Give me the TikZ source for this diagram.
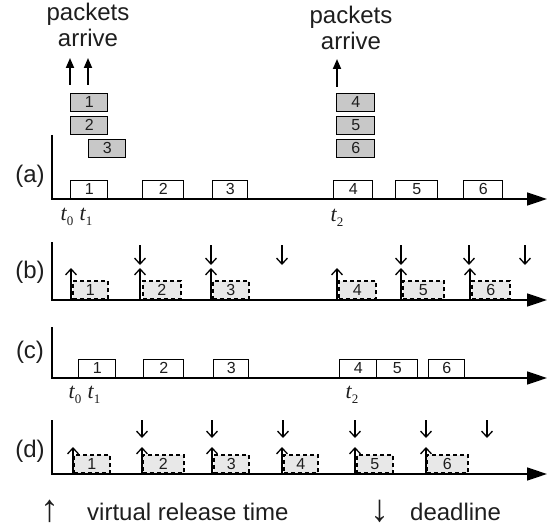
\documentclass[tikz,border=0pt]{standalone}
\usepackage{fontspec}
\setmainfont{Liberation Sans}
\newfontfamily\serifit{Liberation Serif}
\usetikzlibrary{arrows.meta}

\definecolor{qgray}{RGB}{200,200,200}
\definecolor{vgray}{RGB}{232,232,232}
\definecolor{ink}{RGB}{30,30,30}

% packet box: style, name, left x, right x, bottom y, label
\newcommand\pk[6]{\node[#1, minimum width={(#4-#3)*1pt}] (#2) at (#3,#5) {#6};}
% time label t_i: name, x, baseline y, index
\newcommand\tlab[4]{\node[tlabel] (#1) at (#2,#3) {{\itshape t}\raisebox{-5pt}{\fontsize{13}{13}\selectfont #4}};}

\tikzset{
  axisline/.style={line width=1.5pt, -{Triangle[length=20pt,width=13pt]}},
  box/.style={draw, line width=1.4pt, inner sep=0pt, minimum height=18pt,
              anchor=south west, text=ink, font=\fontsize{16}{16}\selectfont},
  queued/.style={box, fill=qgray},
  plain/.style={box, fill=white},
  virt/.style={box, line width=1.6pt, dash pattern=on 4pt off 3pt, fill=vgray},
  arrive/.style={line width=1.8pt, -{Triangle[length=10pt,width=8pt]}},
  marker/.style={line width=1.3pt, -{Straight Barb[length=6pt,width=11pt]}},
  panel/.style={font=\fontsize{24}{24}\selectfont, inner sep=0pt, text=ink},
  words/.style={font=\fontsize{24}{26}\selectfont, inner sep=0pt, text=ink},
  keyarrow/.style={font=\fontsize{38}{38}\selectfont, inner sep=0pt, anchor=base, text=ink},
  tlabel/.style={font=\serifit\fontsize{22}{22}\selectfont, inner sep=0pt, anchor=base, text=ink},
}

\begin{document}
\begin{tikzpicture}[x=1pt, y=-1pt]
\useasboundingbox (0,0) rectangle (556,529);

% ---------------- (a) packet arrivals and FIFO service ----------------
% anchor=base sits on the baseline of the last line ("arrive")
\node[words, align=center, anchor=base] (arrL) at (88,47) {packets\\arrive};
\node[words, align=center, anchor=base] (arrR) at (351,50) {packets\\arrive};

\pk{queued}{q1}{70}{107}{112}{1}
\pk{queued}{q2}{70}{107}{135}{2}
\pk{queued}{q3}{88}{125}{158}{3}
\pk{queued}{q4}{336}{374}{112}{4}
\pk{queued}{q5}{336}{374}{135}{5}
\pk{queued}{q6}{336}{374}{158}{6}

\coordinate (u1s) at (70,85);  \coordinate (u1e) at (70,58);
\coordinate (u2s) at (88,85);  \coordinate (u2e) at (88,58);
\coordinate (u3s) at (337,87); \coordinate (u3e) at (337,59);
\draw[arrive] (u1s) -- (u1e);
\draw[arrive] (u2s) -- (u2e);
\draw[arrive] (u3s) -- (u3e);

\pk{plain}{a1}{70}{107}{199}{1}
\pk{plain}{a2}{142}{183}{199}{2}
\pk{plain}{a3}{212}{247}{199}{3}
\pk{plain}{a4}{333}{372}{199}{4}
\pk{plain}{a5}{395}{437}{199}{5}
\pk{plain}{a6}{463}{502}{199}{6}

\coordinate (aT) at (52,135); \coordinate (aO) at (52,199); \coordinate (aE) at (547,199);
\draw[axisline] (aT) -- (aO) -- (aE);
\node[panel] (la) at (30,176) {(a)};
\tlab{ta0}{67}{221}{0}
\tlab{ta1}{86}{221}{1}
\tlab{ta2}{337}{222}{2}

% ---------------- (b) virtual release times and deadlines ----------------
\pk{virt}{b1}{72}{107}{300}{1}
\pk{virt}{b2}{142}{180}{300}{2}
\pk{virt}{b3}{212}{248}{300}{3}
\pk{virt}{b4}{338}{375}{300}{4}
\pk{virt}{b5}{402}{443}{300}{5}
\pk{virt}{b6}{471}{509}{300}{6}

\coordinate (bT) at (52,242); \coordinate (bO) at (52,300); \coordinate (bE) at (547,300);
\draw[axisline] (bT) -- (bO) -- (bE);
\node[panel] (lb) at (30,272) {(b)};

\foreach \x [count=\i] in {71,140,211,337,401,470}{
  \coordinate (br\i s) at (\x,300); \coordinate (br\i e) at (\x,268);
  \draw[marker] (br\i s) -- (br\i e);
}
\foreach \x [count=\i] in {140,211,282,401,469,525}{
  \coordinate (bd\i s) at (\x,245); \coordinate (bd\i e) at (\x,265);
  \draw[marker] (bd\i s) -- (bd\i e);
}

% ---------------- (c) actual transmissions ----------------
\pk{plain}{c1}{78}{115}{378}{1}
\pk{plain}{c2}{143}{183}{378}{2}
\pk{plain}{c3}{213}{248}{378}{3}
\pk{plain}{c4}{339}{376}{378}{4}
\pk{plain}{c5}{376}{417}{378}{5}
\pk{plain}{c6}{428}{464}{378}{6}

\coordinate (cT) at (52,327); \coordinate (cO) at (52,378); \coordinate (cE) at (547,378);
\draw[axisline] (cT) -- (cO) -- (cE);
\node[panel] (lc) at (30,352) {(c)};
\tlab{tc0}{75}{398}{0}
\tlab{tc1}{94}{398}{1}
\tlab{tc2}{352}{398}{2}

% ---------------- (d) adjusted release times and deadlines ----------------
\pk{virt}{d1}{73}{109}{474}{1}
\pk{virt}{d2}{142}{183}{474}{2}
\pk{virt}{d3}{213}{248}{474}{3}
\pk{virt}{d4}{283}{317}{474}{4}
\pk{virt}{d5}{356}{392}{474}{5}
\pk{virt}{d6}{426}{467}{474}{6}

\coordinate (dT) at (52,420); \coordinate (dO) at (52,474); \coordinate (dE) at (547,474);
\draw[axisline] (dT) -- (dO) -- (dE);
\node[panel] (ld) at (30,451) {(d)};

\foreach \x [count=\i] in {73,142,212,282,355,426}{
  \coordinate (dr\i s) at (\x,474); \coordinate (dr\i e) at (\x,447);
  \draw[marker] (dr\i s) -- (dr\i e);
}
\foreach \x [count=\i] in {142,212,283,355,426,487}{
  \coordinate (dd\i s) at (\x,420); \coordinate (dd\i e) at (\x,438);
  \draw[marker] (dd\i s) -- (dd\i e);
}

% ---------------- legend ----------------
\node[keyarrow] (kUp) at (50,521) {↑};
\node[words, anchor=base west] (kUpT) at (87,520) {virtual release time};
\node[keyarrow] (kDn) at (380,521) {↓};
\node[words, anchor=base west] (kDnT) at (410,520) {deadline};
\end{tikzpicture}
\end{document}
